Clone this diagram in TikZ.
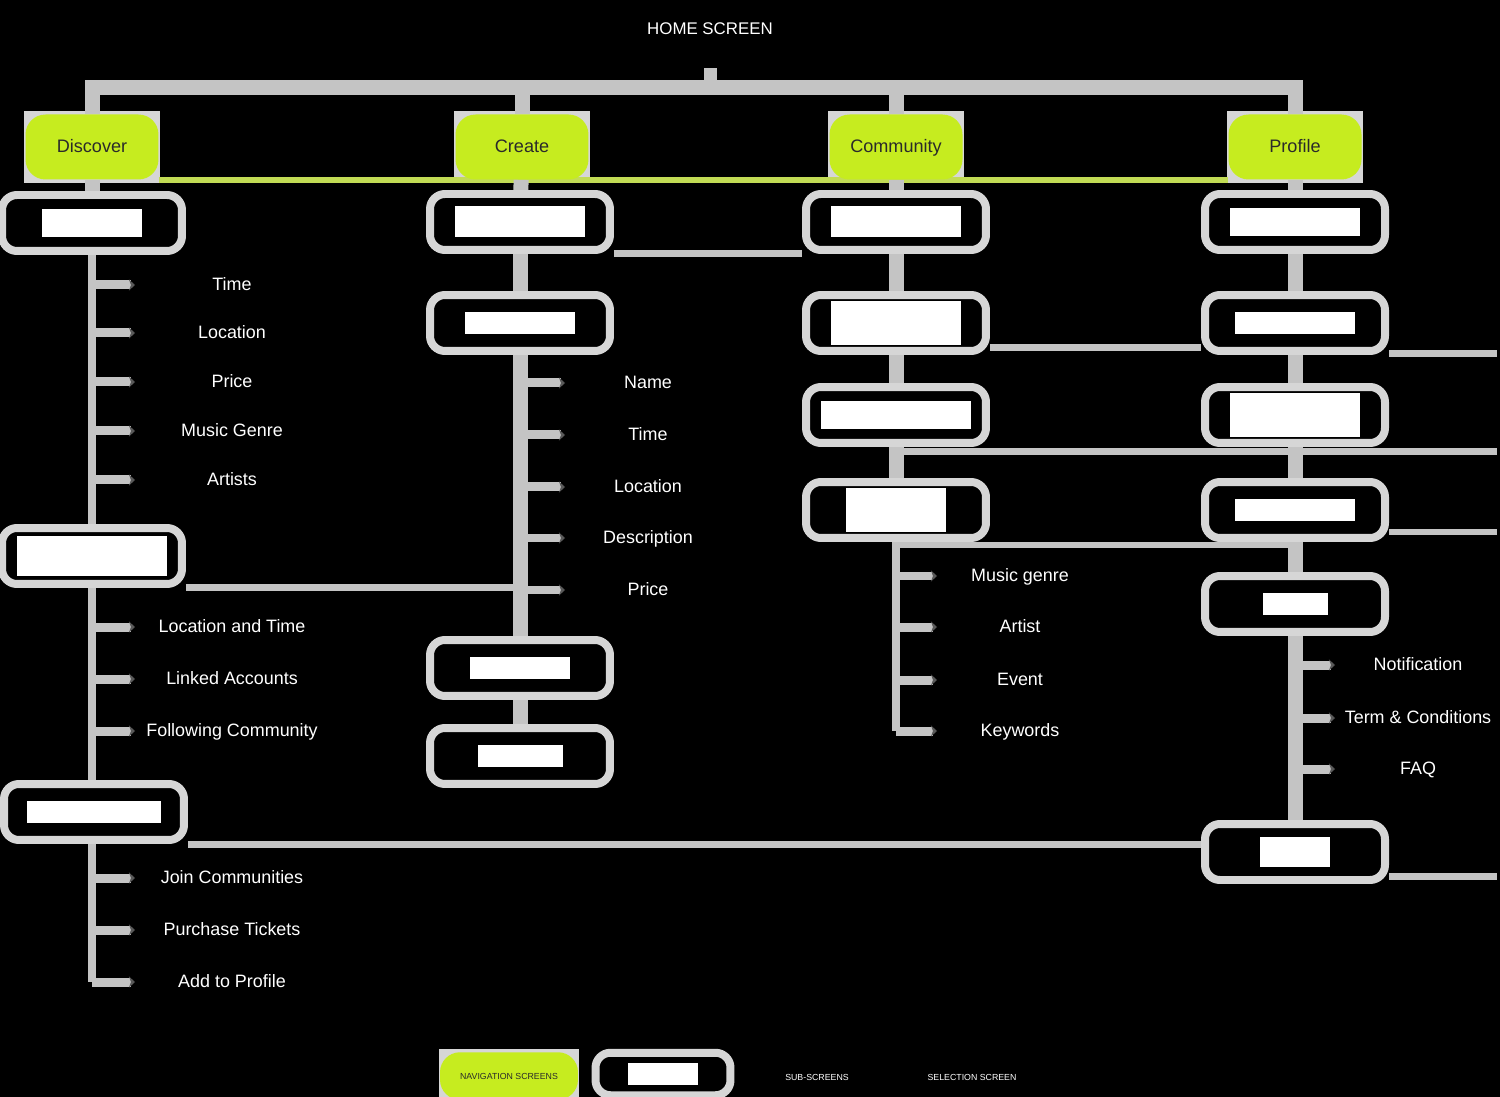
\documentclass[tikz,border=0pt]{standalone}
\usepackage{fontspec}
\setmainfont{Liberation Sans}
\usetikzlibrary{arrows.meta,calc}
\pgfdeclarelayer{back}
\pgfdeclarelayer{lines}
\pgfsetlayers{back,lines,main}
\definecolor{lime}{HTML}{C6EC1F}
\definecolor{limeln}{HTML}{C2DC55}
\definecolor{framegrey}{HTML}{D6D6D6}
\definecolor{lngrey}{HTML}{C4C4C4}
\definecolor{navtxt}{HTML}{2A2A2A}
\newcommand\whiteblob[2]{\textcolor{white}{\rule{#1}{#2}}}
\tikzset{
  navbox/.style={fill=lime, rounded corners=0.4cm, minimum width=2.66cm, minimum height=1.3cm, text=navtxt, font=\fontsize{10.3}{12}\selectfont, inner sep=0pt, text height=1.55ex, text depth=0.45ex},
  subbox/.style={draw=framegrey, fill=black, line width=0.16cm, rounded corners=0.3cm, minimum width=3.6cm, minimum height=1.12cm, inner sep=0pt},
  lbl/.style={text=white, font=\fontsize{10.2}{12}\selectfont, text height=1.55ex, text depth=0.45ex},
  tiny/.style={font=\fontsize{5}{6}\selectfont},
  hbar/.style={draw=lngrey, line width=0.3cm},
  trunk/.style={draw=lngrey, line width=0.16cm},
  fattrunk/.style={draw=lngrey, line width=0.3cm},
  stub/.style={draw=lngrey, line width=0.18cm, -{Stealth[length=0.12cm,width=0.22cm,color=black!65]}},
  xline/.style={draw=lngrey, line width=0.14cm},
  limeline/.style={draw=limeln, line width=0.12cm},
}
\begin{document}
\begin{tikzpicture}[x=0.02cm,y=-0.02cm]
\useasboundingbox (0,0) rectangle (1500,1097);
\begin{pgfonlayer}{back}
\fill[black] (0,0) rectangle (1500,1097);
\end{pgfonlayer}

% title
\node[lbl, font=\fontsize{9.6}{12}\selectfont] (home) at (710,29) {HOME SCREEN};
\coordinate (hb) at (710,88);

% navigation screens
\node[navbox] (d0) at (92,147) {Discover};
\node[navbox] (c0) at (522,147) {Create};
\node[navbox] (m0) at (896,147) {Community};
\node[navbox] (p0) at (1295,147) {Profile};

% Discover column
\node[subbox] (d1) at (92,223) {\whiteblob{2.0cm}{0.56cm}};
\node[subbox] (d2) at (92,556) {\whiteblob{3.0cm}{0.8cm}};
\node[subbox] (d3) at (94,812) {\whiteblob{2.7cm}{0.45cm}};
% Create column
\node[subbox] (c1) at (520,222) {\whiteblob{2.6cm}{0.62cm}};
\node[subbox] (c2) at (520,323) {\whiteblob{2.2cm}{0.45cm}};
\node[subbox] (c3) at (520,668) {\whiteblob{2.0cm}{0.45cm}};
\node[subbox] (c4) at (520,756) {\whiteblob{1.7cm}{0.45cm}};
% Community column
\node[subbox] (m1) at (896,222) {\whiteblob{2.6cm}{0.62cm}};
\node[subbox] (m2) at (896,323) {\whiteblob{2.6cm}{0.9cm}};
\node[subbox] (m3) at (896,415) {\whiteblob{3.0cm}{0.55cm}};
\node[subbox] (m4) at (896,510) {\whiteblob{2.0cm}{0.9cm}};
% Profile column
\node[subbox] (p1) at (1295,222) {\whiteblob{2.6cm}{0.56cm}};
\node[subbox] (p2) at (1295,323) {\whiteblob{2.4cm}{0.45cm}};
\node[subbox] (p3) at (1295,415) {\whiteblob{2.6cm}{0.9cm}};
\node[subbox] (p4) at (1295,510) {\whiteblob{2.4cm}{0.45cm}};
\node[subbox] (p5) at (1295,604) {\whiteblob{1.3cm}{0.45cm}};
\node[subbox] (p6) at (1295,852) {\whiteblob{1.4cm}{0.6cm}};

% selection labels and stub ends
\foreach \t/\y [count=\i] in {Time/285, Location/333, Price/382, Music Genre/431, Artists/480,
   Location and Time/627, Linked Accounts/679, Following Community/731,
   Join Communities/878, Purchase Tickets/930, Add to Profile/982}{
  \node[lbl] (dl\i) at (232,\y) {\t};
  \coordinate (ds\i) at (135,\y);
}
\foreach \t/\y [count=\i] in {Name/383, Time/435, Location/487, Description/538, Price/590}{
  \node[lbl] (cl\i) at (648,\y) {\t};
  \coordinate (cs\i) at (565,\y);
}
\foreach \t/\y [count=\i] in {Music genre/576, Artist/627, Event/680, Keywords/731}{
  \node[lbl] (ml\i) at (1020,\y) {\t};
  \coordinate (ms\i) at (937,\y);
}
\foreach \t/\y [count=\i] in {Notification/665, Term \& Conditions/718, FAQ/769}{
  \node[lbl] (pl\i) at (1418,\y) {\t};
  \coordinate (ps\i) at (1335,\y);
}

% free ends on the right edge
\coordinate (r1) at (1497,354);
\coordinate (r2) at (1497,452);
\coordinate (r3) at (1497,532);
\coordinate (r4) at (1497,876);

% legend
\node[navbox, minimum width=2.76cm, minimum height=0.95cm, tiny, text height=, text depth=] (lg1) at (509,1076) {NAVIGATION SCREENS};
\node[subbox, minimum width=2.7cm, minimum height=0.85cm] (lg2) at (663,1074) {\whiteblob{1.4cm}{0.45cm}};
\node[tiny, text=white] (lg3) at (817,1077) {SUB-SCREENS};
\node[tiny, text=white] (lg4) at (972,1077) {SELECTION SCREEN};

\begin{pgfonlayer}{lines}
% grey backing of the navigation screens
\foreach \n in {d0,c0,m0,p0,lg1}
  \fill[framegrey] ($(\n.south west)+(-1,3)$) rectangle ($(\n.north east)+(1,-3)$);
% home bar
\draw[hbar, line width=0.26cm] ($(home.south)+(0,24)$) -- (hb);
\draw[hbar] (d0.north) -- (d0.north |- hb) -- (p0.north |- hb) -- (p0.north);
\draw[hbar] (c0.north) -- (c0.north |- hb);
\draw[hbar] (m0.north) -- (m0.north |- hb);
% green line
\draw[limeline] (d0.south east) -- (p0.south west);
% nav to first sub-screens
\draw[fattrunk] (d0) -- (d1);
\draw[fattrunk] (c0) -- (c1);
\draw[fattrunk] (m0) -- (m1);
\draw[fattrunk] (p0) -- (p1);
% Discover trunk
\draw[trunk] (d1) -- (d2);
\draw[trunk] (d2) -- (d2 |- d3);
\draw[trunk] (d3.center -| d2) -- (d2 |- ds11);
\foreach \i in {1,...,11} \draw[stub] (d2 |- ds\i) -- (ds\i);
% Create trunk
\draw[fattrunk] (c1) -- (c2) -- (c3) -- (c4);
\foreach \i in {1,...,5} \draw[stub] (c2 |- cs\i) -- (cs\i);
% Community trunk
\draw[fattrunk] (m1) -- (m2) -- (m3) -- (m4);
\draw[trunk] (m4) -- (m4 |- ms4);
\foreach \i in {1,...,4} \draw[stub] (m4 |- ms\i) -- (ms\i);
% Profile trunk
\draw[fattrunk] (p1) -- (p2) -- (p3) -- (p4) -- (p5) -- (p6);
\foreach \i in {1,...,3} \draw[stub] (p5 |- ps\i) -- (ps\i);
% cross lines
\draw[xline] (c1.south east) -- (m1.south west);
\draw[xline] (d2.south east) -- (d2.south east -| c2);
\draw[xline] (m2.east |- 0,348) -- (p2.west |- 0,348);
\draw[xline] (p2.east |- r1) -- (r1);
\draw[xline] (m3 |- r2) -- (r2);
\draw[xline] (m4 |- 0,545) -- (p4 |- 0,545);
\draw[xline] (p4.east |- r3) -- (r3);
\draw[xline] (d3.east |- 0,844) -- (p6.west |- 0,844);
\draw[xline] (p6.east |- r4) -- (r4);
\end{pgfonlayer}
\end{tikzpicture}
\end{document}
